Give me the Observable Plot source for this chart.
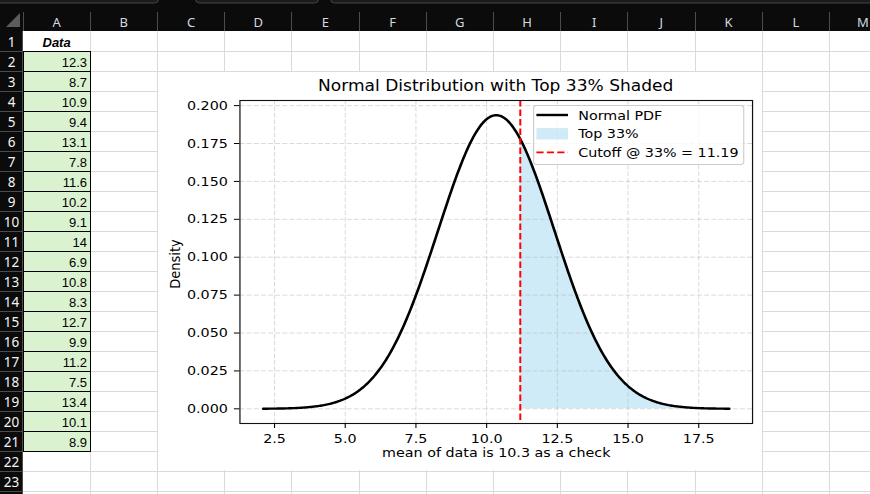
<!DOCTYPE html>
<html>
<head>
<meta charset="utf-8">
<script src="https://cdn.jsdelivr.net/npm/d3@7"></script>
<script src="https://cdn.jsdelivr.net/npm/@observablehq/plot@0.6"></script>
<style>
  html, body { margin: 0; padding: 0; background: #fff; overflow: hidden; }
  #sheet { position: absolute; left: 0; top: 0; }
  #fig {
    position: absolute; left: 158px; top: 72px; width: 549px; height: 398px;
    background: #fff; transform: scaleX(1.1); transform-origin: 0 0;
    font-family: "DejaVu Sans", sans-serif;
  }
  #plot { position: absolute; left: 0; top: 0; }
  #title {
    position: absolute; left: 74px; width: 466px; top: 7px; text-align: center;
    font-size: 15.5px; line-height: 15.5px; color: #000; white-space: nowrap;
  }
  #legend { position: absolute; left: 340.6px; top: 33px; }
</style>
</head>
<body>
<div id="sheet"></div>
<div id="fig">
  <div id="plot"></div>
  <div id="title"></div>
  <div id="legend"></div>
</div>
<script>
// Column A of the worksheet
const headerLabel = "Data";
const values = [12.3, 8.7, 10.9, 9.4, 13.1, 7.8, 11.6, 10.2, 9.1, 14, 6.9, 10.8, 8.3, 12.7, 9.9, 11.2, 7.5, 13.4, 10.1, 8.9];

// Worksheet frame
const columnLetters = ["A", "B", "C", "D", "E", "F", "G", "H", "I", "J", "K", "L", "M"];
const rowCount = 23;

// Chart settings
const topPercent = 33;
const cutoff = 11.19;
const xTicks = [2.5, 5, 7.5, 10, 12.5, 15, 17.5];
const yTicks = [0, 0.025, 0.05, 0.075, 0.1, 0.125, 0.15, 0.175, 0.2];
const chartTitle = `Normal Distribution with Top ${topPercent}% Shaded`;
const yLabel = "Density";
const legendLabels = ["Normal PDF", `Top ${topPercent}%`, `Cutoff @ ${topPercent}% = ${cutoff.toFixed(2)}`];

// ---------- worksheet grid ----------
const W = 870, H = 494;
const col0 = 23, colW = 67.2, row0 = 31, rowH = 20;
const colEdge = i => Math.floor(col0 + i * colW);
const rowEdge = i => row0 + i * rowH;

const svg = d3.select("#sheet").append("svg")
  .attr("width", W).attr("height", H)
  .style("font-family", "'Noto Sans', sans-serif");

svg.append("rect").attr("width", W).attr("height", H).attr("fill", "#fff");

// light cell gridlines
const grid = svg.append("g").attr("stroke", "#dadada").attr("stroke-width", 1);
for (let i = 1; colEdge(i) < W; i++) {
  grid.append("line").attr("x1", colEdge(i) + 0.5).attr("x2", colEdge(i) + 0.5)
    .attr("y1", row0).attr("y2", H);
}
for (let r = 1; rowEdge(r) < H; r++) {
  grid.append("line").attr("x1", col0).attr("x2", W)
    .attr("y1", rowEdge(r) + 0.5).attr("y2", rowEdge(r) + 0.5);
}

// column header band and row header strip
svg.append("rect").attr("x", 0).attr("y", 0).attr("width", W).attr("height", row0).attr("fill", "#0b0b0b");
svg.append("rect").attr("x", 0).attr("y", row0).attr("width", col0).attr("height", H - row0).attr("fill", "#0b0b0b");

// toolbar edges at the very top
[[-6, 158], [195, 318], [330, 880]].forEach(([a, b]) => {
  svg.append("rect").attr("x", a + 0.5).attr("y", -10).attr("width", b - a).attr("height", 13)
    .attr("rx", 4).attr("fill", "#1b1b1b").attr("stroke", "#464646");
});

// select-all corner
svg.append("path").attr("d", "M6,27 L20,27 L20,13 Z").attr("fill", "#5c5c5c");

// header separators
const hs = svg.append("g").attr("stroke", "#4c4c4c");
for (let i = 0; colEdge(i) < W; i++) {
  hs.append("line").attr("x1", colEdge(i) + 0.5).attr("x2", colEdge(i) + 0.5).attr("y1", 12).attr("y2", row0);
}
for (let r = 1; rowEdge(r) < H; r++) {
  hs.append("line").attr("x1", 0).attr("x2", col0).attr("y1", rowEdge(r) + 0.5).attr("y2", rowEdge(r) + 0.5);
}
hs.append("line").attr("x1", col0 - 0.5).attr("x2", col0 - 0.5).attr("y1", row0).attr("y2", H);

// column letters
columnLetters.forEach((c, i) => {
  svg.append("text").attr("x", (col0 + i * colW) + colW / 2).attr("y", 26.7)
    .attr("text-anchor", "middle").attr("font-size", 13).attr("fill", "#d2d9e0").text(c);
});

// row numbers
for (let r = 1; r <= rowCount; r++) {
  svg.append("text").attr("x", 11.5).attr("y", rowEdge(r - 1) + 15.7)
    .attr("text-anchor", "middle").attr("font-size", 13.5).attr("fill", "#f4f4f4").text(r);
}

// column A: header and values
const cells = svg.append("g").style("font-family", "'Liberation Sans', Arial, sans-serif");
cells.append("text").attr("x", col0 + colW / 2).attr("y", rowEdge(0) + 16)
  .attr("text-anchor", "middle").attr("font-size", 13).attr("font-weight", "bold")
  .attr("font-style", "italic").attr("fill", "#000").text(headerLabel);
values.forEach((v, i) => {
  const y = rowEdge(i + 1);
  cells.append("rect").attr("x", col0 + 0.5).attr("y", y + 0.5)
    .attr("width", colEdge(1) - col0).attr("height", rowH)
    .attr("fill", "#daf2d0").attr("stroke", "#000").attr("stroke-width", 1);
  cells.append("text").attr("x", colEdge(1) - 3).attr("y", y + 15.7)
    .attr("text-anchor", "end").attr("font-size", 13).attr("fill", "#000").text(String(v));
});

// ---------- normal distribution chart ----------
const mu = d3.mean(values);
const sd = d3.deviation(values);
const pdf = x => Math.exp(-0.5 * ((x - mu) / sd) ** 2) / (sd * Math.sqrt(2 * Math.PI));
const lo = mu - 4 * sd, hi = mu + 4 * sd;
const curve = d3.range(400).map(i => {
  const x = lo + (hi - lo) * i / 399;
  return {x, y: pdf(x)};
});
const shade = [{x: cutoff, y: pdf(cutoff)}, ...curve.filter(d => d.x > cutoff)];
const peak = pdf(mu);
const xPad = 0.05 * (hi - lo), yPad = 0.05 * peak;
const xLabel = `mean of data is ${d3.format(".1f")(mu)} as a check`;

const gridStyle = {stroke: "#b0b0b0", strokeOpacity: 0.5, strokeWidth: 0.9, strokeDasharray: "4.5,2"};

const chart = Plot.plot({
  width: 549,
  height: 398,
  marginLeft: 74,
  marginRight: 9,
  marginTop: 28,
  marginBottom: 47,
  style: {fontFamily: "DejaVu Sans, sans-serif", fontSize: "13px", color: "#000", background: "transparent", overflow: "visible"},
  x: {domain: [lo - xPad, hi + xPad], label: null},
  y: {domain: [-yPad, peak + yPad], label: null},
  marks: [
    Plot.areaY(shade, {x: "x", y: "y", fill: "#87ceeb", fillOpacity: 0.4}),
    Plot.ruleX(xTicks, gridStyle),
    Plot.ruleY(yTicks, gridStyle),
    Plot.line(curve, {x: "x", y: "y", stroke: "#000", strokeWidth: 2.4}),
    Plot.ruleX([cutoff], {stroke: "#ff0000", strokeWidth: 1.8, strokeDasharray: "6.5,3"}),
    Plot.frame({stroke: "#111", strokeWidth: 1.1}),
    Plot.axisX(xTicks, {tickSize: 5, tickPadding: 5, tickFormat: d3.format(".1f"), label: null}),
    Plot.axisY(yTicks, {tickSize: 5, tickPadding: 6, tickFormat: d3.format(".3f"), label: null}),
    Plot.text([yLabel], {frameAnchor: "left", textAnchor: "middle", lineAnchor: "middle", rotate: -90, dx: -58.5, dy: 2, fill: "#000"}),
    Plot.text([xLabel], {frameAnchor: "bottom", textAnchor: "middle", lineAnchor: "middle", dy: 29.8, fill: "#000"})
  ]
});
document.getElementById("plot").append(chart);
document.getElementById("title").textContent = chartTitle;

// legend box
const lg = d3.select("#legend").append("svg").attr("width", 193).attr("height", 61)
  .style("display", "block").style("overflow", "visible");
lg.append("rect").attr("x", 0.5).attr("y", 0.5).attr("width", 191).attr("height", 59).attr("rx", 3)
  .attr("fill", "#fff").attr("fill-opacity", 0.8).attr("stroke", "#cccccc");
const rowsY = [10, 28.7, 47.3];
lg.append("line").attr("x1", 3).attr("x2", 31.7).attr("y1", rowsY[0]).attr("y2", rowsY[0])
  .attr("stroke", "#000").attr("stroke-width", 2.4);
lg.append("rect").attr("x", 3).attr("y", rowsY[1] - 5.6).attr("width", 28.7).attr("height", 11.4)
  .attr("fill", "#87ceeb").attr("fill-opacity", 0.4);
lg.append("line").attr("x1", 3).attr("x2", 31.7).attr("y1", rowsY[2]).attr("y2", rowsY[2])
  .attr("stroke", "#ff0000").attr("stroke-width", 1.8).attr("stroke-dasharray", "6.5,3");
legendLabels.forEach((t, i) => {
  lg.append("text").attr("x", 41).attr("y", rowsY[i]).attr("dy", "0.35em")
    .attr("font-family", "DejaVu Sans, sans-serif").attr("font-size", 13).attr("fill", "#000").text(t);
});
</script>
</body>
</html>
